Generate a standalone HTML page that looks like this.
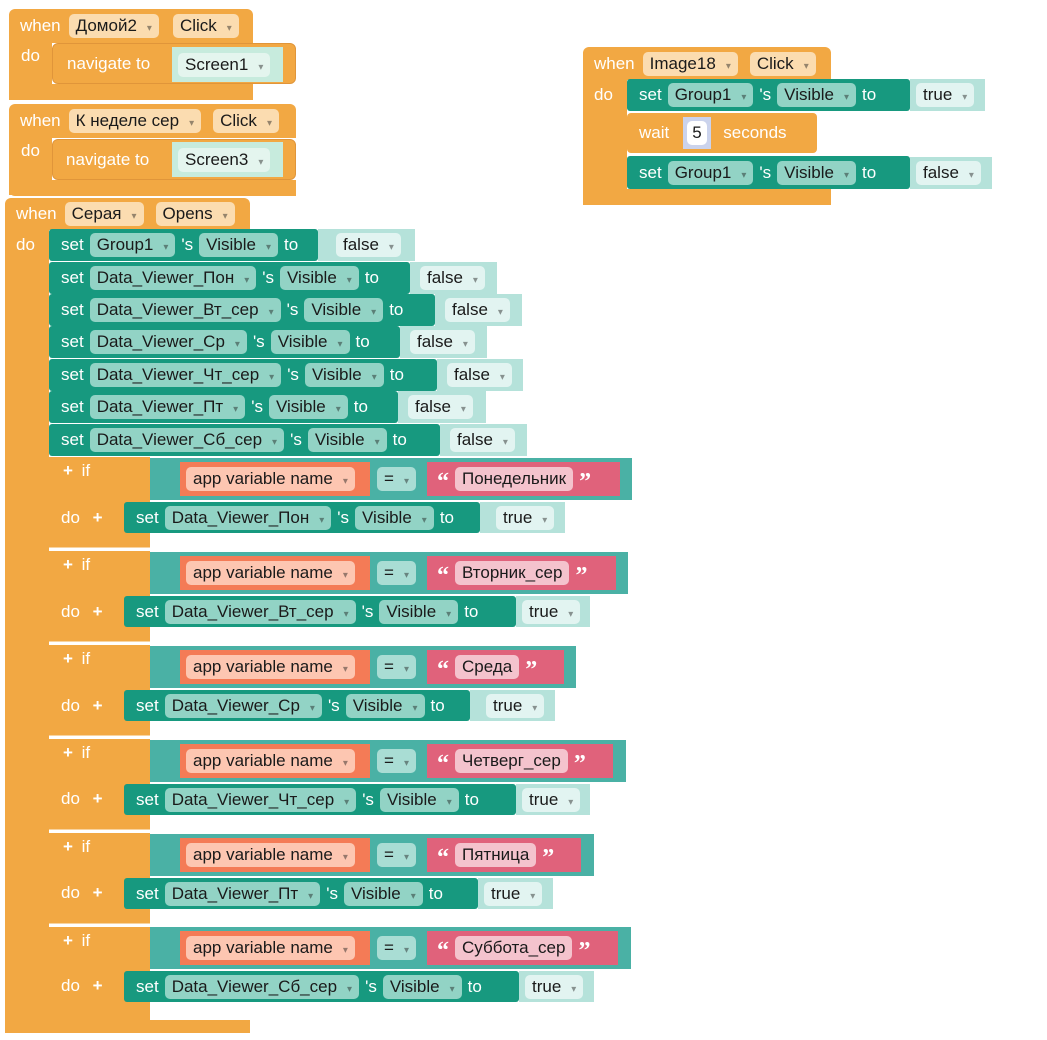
<!DOCTYPE html>
<html><head><meta charset="utf-8"><style>
body{margin:0;width:1047px;height:1040px;background:#fff;position:relative;overflow:hidden;font-family:"Liberation Sans",sans-serif}
.b{position:absolute;display:flex;align-items:center;color:#fff;font-size:17px;white-space:nowrap;box-sizing:border-box}
.o{background:#f2a843}.t{background:#17997f;border-radius:3px}.v{background:#b5e2da}.c{background:#4ab1a5}.r{background:#f47b56}.p{background:#e0627b}
.f{border-radius:5px;padding:0 7px;color:#1a1a1a;height:24px;line-height:24px;box-sizing:border-box;display:inline-block}
.a::after{content:"▾";font-size:10px;margin-left:10px;opacity:.45}
.ft{background:#92d3c5}.fv{background:#e2f4f1}.fo{background:#fbdcb0}.fr{background:#fdc6b1}.fp{background:#f4c3cd}.fc{background:#a9ddd4}
.l{position:absolute;color:#fff;font-size:17px}
.q{font-size:24px;font-weight:bold;font-family:"Liberation Serif",serif;line-height:20px;padding-top:6px}
</style></head><body>

<!-- Block 1 -->
<div class="b o" style="left:9px;top:9px;width:244px;height:34px;border-radius:6px 6px 0 0;padding-left:11px;gap:8px">when <span class="f fo a">Домой2</span><span class="f fo a" style="margin-left:6px">Click</span></div>
<div class="b o" style="left:9px;top:40px;width:43px;height:60px"></div>
<div class="b o" style="left:9px;top:84px;width:244px;height:16px;border-radius:0 0 0 6px"></div>
<div class="l" style="left:21px;top:46px">do</div>
<div class="b o" style="left:52px;top:43px;width:244px;height:41px;border-radius:6px;padding-left:14px;border:1px solid #e0953a">navigate to</div>
<div class="b" style="left:172px;top:47px;width:111px;height:35px;background:#c7ebdd;padding-left:6px"><span class="f a" style="background:#e4f5ee">Screen1</span></div>

<!-- Block 2 -->
<div class="b o" style="left:9px;top:104px;width:287px;height:34px;border-radius:6px 6px 0 0;padding-left:11px;gap:8px">when <span class="f fo a">К неделе сер</span><span class="f fo a" style="margin-left:4px">Click</span></div>
<div class="b o" style="left:9px;top:135px;width:43px;height:60px"></div>
<div class="b o" style="left:9px;top:180px;width:287px;height:16px;border-radius:0 0 0 6px"></div>
<div class="l" style="left:21px;top:141px">do</div>
<div class="b o" style="left:52px;top:139px;width:244px;height:41px;border-radius:6px;padding-left:13px;border:1px solid #e0953a">navigate to</div>
<div class="b" style="left:172px;top:142px;width:111px;height:35px;background:#c7ebdd;padding-left:6px"><span class="f a" style="background:#e4f5ee">Screen3</span></div>

<!-- Right block -->
<div class="b o" style="left:583px;top:47px;width:248px;height:33px;border-radius:6px 6px 0 0;padding-left:11px;gap:8px">when <span class="f fo a">Image18</span><span class="f fo a" style="margin-left:4px">Click</span></div>
<div class="b o" style="left:583px;top:78px;width:44px;height:127px"></div>
<div class="b o" style="left:583px;top:189px;width:248px;height:16px;border-radius:0 0 0 6px"></div>
<div class="l" style="left:594px;top:85px">do</div>
<div class="b t" style="left:627px;top:79px;width:283px;height:32px;padding-left:12px;gap:6px">set <span class="f ft a">Group1</span> 's <span class="f ft a">Visible</span> to</div>
<div class="b v" style="left:910px;top:79px;width:75px;height:32px;padding-left:6px"><span class="f fv a">true</span></div>
<div class="b o" style="left:627px;top:113px;width:190px;height:40px;padding-left:12px;border-radius:4px">wait <span style="display:inline-block;background:#cbd3ec;width:28px;height:32px;margin-left:14px;padding:4px 4px;box-sizing:border-box"><span class="f" style="background:#fff;padding:0 5px;height:24px">5</span></span><span style="margin-left:12px">seconds</span></div>
<div class="b t" style="left:627px;top:156px;width:283px;height:33px;padding-left:12px;gap:6px">set <span class="f ft a">Group1</span> 's <span class="f ft a">Visible</span> to</div>
<div class="b v" style="left:910px;top:157px;width:82px;height:32px;padding-left:6px"><span class="f fv a">false</span></div>

<!-- Block 3 -->
<div class="b o" style="left:5px;top:198px;width:245px;height:32px;border-radius:6px 6px 0 0;padding-left:11px;gap:8px">when <span class="f fo a">Серая</span><span class="f fo a" style="margin-left:4px">Opens</span></div>
<div class="b o" style="left:5px;top:228px;width:44px;height:805px"></div>
<div class="b o" style="left:5px;top:1020px;width:245px;height:13px;border-radius:0 0 0 6px"></div>
<div class="l" style="left:16px;top:235px">do</div>

<div class="b t" style="left:49px;top:229px;width:269px;height:32px;padding-left:12px;gap:6px">set <span class="f ft a">Group1</span> 's <span class="f ft a">Visible</span> to</div>
<div class="b v" style="left:318px;top:229px;width:97px;height:32px;padding-left:18px"><span class="f fv a">false</span></div>
<div class="b t" style="left:49px;top:262px;width:361px;height:32px;padding-left:12px;gap:6px">set <span class="f ft a">Data_Viewer_Пон</span> 's <span class="f ft a">Visible</span> to</div>
<div class="b v" style="left:410px;top:262px;width:87px;height:32px;padding-left:10px"><span class="f fv a">false</span></div>
<div class="b t" style="left:49px;top:294px;width:386px;height:32px;padding-left:12px;gap:6px">set <span class="f ft a">Data_Viewer_Вт_сер</span> 's <span class="f ft a">Visible</span> to</div>
<div class="b v" style="left:435px;top:294px;width:87px;height:32px;padding-left:10px"><span class="f fv a">false</span></div>
<div class="b t" style="left:49px;top:326px;width:351px;height:32px;padding-left:12px;gap:6px">set <span class="f ft a">Data_Viewer_Ср</span> 's <span class="f ft a">Visible</span> to</div>
<div class="b v" style="left:400px;top:326px;width:87px;height:32px;padding-left:10px"><span class="f fv a">false</span></div>
<div class="b t" style="left:49px;top:359px;width:388px;height:32px;padding-left:12px;gap:6px">set <span class="f ft a">Data_Viewer_Чт_сер</span> 's <span class="f ft a">Visible</span> to</div>
<div class="b v" style="left:437px;top:359px;width:86px;height:32px;padding-left:10px"><span class="f fv a">false</span></div>
<div class="b t" style="left:49px;top:391px;width:349px;height:32px;padding-left:12px;gap:6px">set <span class="f ft a">Data_Viewer_Пт</span> 's <span class="f ft a">Visible</span> to</div>
<div class="b v" style="left:398px;top:391px;width:88px;height:32px;padding-left:10px"><span class="f fv a">false</span></div>
<div class="b t" style="left:49px;top:424px;width:391px;height:32px;padding-left:12px;gap:6px">set <span class="f ft a">Data_Viewer_Сб_сер</span> 's <span class="f ft a">Visible</span> to</div>
<div class="b v" style="left:440px;top:424px;width:87px;height:32px;padding-left:10px"><span class="f fv a">false</span></div>

<!-- if 1 -->
<div class="b o" style="left:49px;top:457px;width:101px;height:91px;border-bottom:1px solid #f8d39f"></div>
<div class="l" style="left:63px;top:461px;font-weight:bold">+ <span style="font-weight:normal;margin-left:4px">if</span></div>
<div class="l" style="left:61px;top:508px">do <b style="margin-left:8px">+</b></div>
<div class="b c" style="left:150px;top:458px;width:482px;height:42px"></div>
<div class="b r" style="left:180px;top:462px;width:190px;height:34px;padding-left:6px"><span class="f fr a">app variable name</span></div>
<div class="b" style="left:377px;top:467px"><span class="f fc a">=</span></div>
<div class="b p" style="left:427px;top:462px;width:193px;height:34px;padding-left:10px;gap:6px"><span class="q">“</span><span class="f fp">Понедельник</span><span class="q">”</span></div>
<div class="b t" style="left:124px;top:502px;width:356px;height:31px;padding-left:12px;gap:6px">set <span class="f ft a">Data_Viewer_Пон</span> 's <span class="f ft a">Visible</span> to</div>
<div class="b v" style="left:480px;top:502px;width:85px;height:31px;padding-left:16px"><span class="f fv a">true</span></div>

<!-- if 2 -->
<div class="b o" style="left:49px;top:551px;width:101px;height:91px;border-bottom:1px solid #f8d39f"></div>
<div class="l" style="left:63px;top:555px;font-weight:bold">+ <span style="font-weight:normal;margin-left:4px">if</span></div>
<div class="l" style="left:61px;top:602px">do <b style="margin-left:8px">+</b></div>
<div class="b c" style="left:150px;top:552px;width:478px;height:42px"></div>
<div class="b r" style="left:180px;top:556px;width:190px;height:34px;padding-left:6px"><span class="f fr a">app variable name</span></div>
<div class="b" style="left:377px;top:561px"><span class="f fc a">=</span></div>
<div class="b p" style="left:427px;top:556px;width:189px;height:34px;padding-left:10px;gap:6px"><span class="q">“</span><span class="f fp">Вторник_сер</span><span class="q">”</span></div>
<div class="b t" style="left:124px;top:596px;width:392px;height:31px;padding-left:12px;gap:6px">set <span class="f ft a">Data_Viewer_Вт_сер</span> 's <span class="f ft a">Visible</span> to</div>
<div class="b v" style="left:516px;top:596px;width:74px;height:31px;padding-left:6px"><span class="f fv a">true</span></div>

<!-- if 3 -->
<div class="b o" style="left:49px;top:645px;width:101px;height:91px;border-bottom:1px solid #f8d39f"></div>
<div class="l" style="left:63px;top:649px;font-weight:bold">+ <span style="font-weight:normal;margin-left:4px">if</span></div>
<div class="l" style="left:61px;top:696px">do <b style="margin-left:8px">+</b></div>
<div class="b c" style="left:150px;top:646px;width:426px;height:42px"></div>
<div class="b r" style="left:180px;top:650px;width:190px;height:34px;padding-left:6px"><span class="f fr a">app variable name</span></div>
<div class="b" style="left:377px;top:655px"><span class="f fc a">=</span></div>
<div class="b p" style="left:427px;top:650px;width:137px;height:34px;padding-left:10px;gap:6px"><span class="q">“</span><span class="f fp">Среда</span><span class="q">”</span></div>
<div class="b t" style="left:124px;top:690px;width:346px;height:31px;padding-left:12px;gap:6px">set <span class="f ft a">Data_Viewer_Ср</span> 's <span class="f ft a">Visible</span> to</div>
<div class="b v" style="left:470px;top:690px;width:85px;height:31px;padding-left:16px"><span class="f fv a">true</span></div>

<!-- if 4 -->
<div class="b o" style="left:49px;top:739px;width:101px;height:91px;border-bottom:1px solid #f8d39f"></div>
<div class="l" style="left:63px;top:743px;font-weight:bold">+ <span style="font-weight:normal;margin-left:4px">if</span></div>
<div class="l" style="left:61px;top:789px">do <b style="margin-left:8px">+</b></div>
<div class="b c" style="left:150px;top:740px;width:476px;height:42px"></div>
<div class="b r" style="left:180px;top:744px;width:190px;height:34px;padding-left:6px"><span class="f fr a">app variable name</span></div>
<div class="b" style="left:377px;top:749px"><span class="f fc a">=</span></div>
<div class="b p" style="left:427px;top:744px;width:186px;height:34px;padding-left:10px;gap:6px"><span class="q">“</span><span class="f fp">Четверг_сер</span><span class="q">”</span></div>
<div class="b t" style="left:124px;top:784px;width:392px;height:31px;padding-left:12px;gap:6px">set <span class="f ft a">Data_Viewer_Чт_сер</span> 's <span class="f ft a">Visible</span> to</div>
<div class="b v" style="left:516px;top:784px;width:74px;height:31px;padding-left:6px"><span class="f fv a">true</span></div>

<!-- if 5 -->
<div class="b o" style="left:49px;top:833px;width:101px;height:91px;border-bottom:1px solid #f8d39f"></div>
<div class="l" style="left:63px;top:837px;font-weight:bold">+ <span style="font-weight:normal;margin-left:4px">if</span></div>
<div class="l" style="left:61px;top:883px">do <b style="margin-left:8px">+</b></div>
<div class="b c" style="left:150px;top:834px;width:444px;height:42px"></div>
<div class="b r" style="left:180px;top:838px;width:190px;height:34px;padding-left:6px"><span class="f fr a">app variable name</span></div>
<div class="b" style="left:377px;top:843px"><span class="f fc a">=</span></div>
<div class="b p" style="left:427px;top:838px;width:154px;height:34px;padding-left:10px;gap:6px"><span class="q">“</span><span class="f fp">Пятница</span><span class="q">”</span></div>
<div class="b t" style="left:124px;top:878px;width:354px;height:31px;padding-left:12px;gap:6px">set <span class="f ft a">Data_Viewer_Пт</span> 's <span class="f ft a">Visible</span> to</div>
<div class="b v" style="left:478px;top:878px;width:75px;height:31px;padding-left:6px"><span class="f fv a">true</span></div>

<!-- if 6 -->
<div class="b o" style="left:49px;top:927px;width:101px;height:93px"></div>
<div class="l" style="left:63px;top:931px;font-weight:bold">+ <span style="font-weight:normal;margin-left:4px">if</span></div>
<div class="l" style="left:61px;top:976px">do <b style="margin-left:8px">+</b></div>
<div class="b c" style="left:150px;top:927px;width:481px;height:42px"></div>
<div class="b r" style="left:180px;top:931px;width:190px;height:34px;padding-left:6px"><span class="f fr a">app variable name</span></div>
<div class="b" style="left:377px;top:936px"><span class="f fc a">=</span></div>
<div class="b p" style="left:427px;top:931px;width:191px;height:34px;padding-left:10px;gap:6px"><span class="q">“</span><span class="f fp">Суббота_сер</span><span class="q">”</span></div>
<div class="b t" style="left:124px;top:971px;width:395px;height:31px;padding-left:12px;gap:6px">set <span class="f ft a">Data_Viewer_Сб_сер</span> 's <span class="f ft a">Visible</span> to</div>
<div class="b v" style="left:519px;top:971px;width:75px;height:31px;padding-left:6px"><span class="f fv a">true</span></div>

</body></html>
